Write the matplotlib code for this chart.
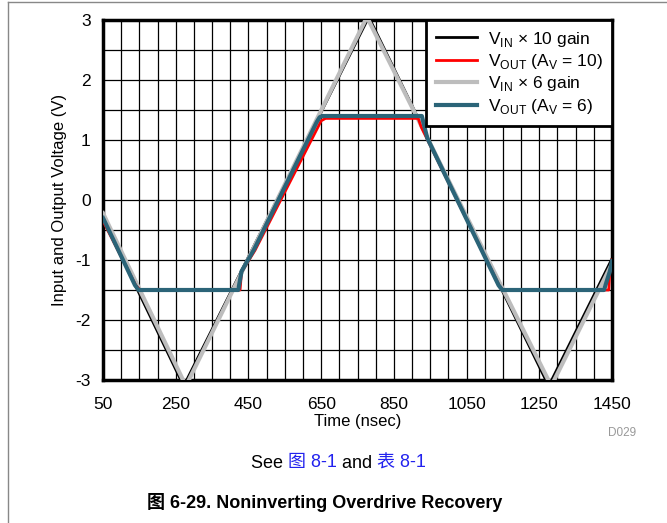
import matplotlib
matplotlib.use("Agg")
import matplotlib.pyplot as plt
from matplotlib.ticker import MultipleLocator
from matplotlib.lines import Line2D

plt.rcParams['font.family'] = ['Liberation Sans', 'Noto Sans CJK SC', 'DejaVu Sans']
plt.rcParams['mathtext.fontset'] = 'custom'
plt.rcParams['mathtext.rm'] = 'Liberation Sans'
plt.rcParams['axes.unicode_minus'] = False

# input triangles (vertices, valleys fall just below -3 V)
t_in10 = [50, 272, 781, 1276, 1450]
v_in10 = [-0.3, -3.1, 3.05, -3.1, -0.98]
t_in6 = [50, 278, 776, 1283, 1450]
v_in6 = [-0.22, -3.1, 3.05, -3.1, -1.06]

# amplifier outputs: follow the input, then clip and recover
t_out10 = [50, 140, 152, 427, 431, 468, 640, 650, 662, 917, 925, 1140, 1150, 1441, 1444, 1450]
v_out10 = [-0.35, -1.42, -1.5, -1.5, -1.2, -0.84, 1.2, 1.32, 1.36, 1.36, 1.22, -1.43, -1.5, -1.5, -1.2, -1.0]
t_out6 = [50, 138, 148, 422, 431, 465, 638, 646, 654, 927, 942, 1138, 1148, 1428, 1444, 1450]
v_out6 = [-0.3, -1.42, -1.5, -1.5, -1.19, -0.83, 1.3, 1.38, 1.40, 1.40, 1.03, -1.42, -1.5, -1.5, -1.19, -1.02]

x_ticks = [50, 250, 450, 650, 850, 1050, 1250, 1450]
labels = ['V$_{\\mathrm{IN}}$ × 10 gain', 'V$_{\\mathrm{OUT}}$ (A$_{\\mathrm{V}}$ = 10)',
          'V$_{\\mathrm{IN}}$ × 6 gain', 'V$_{\\mathrm{OUT}}$ (A$_{\\mathrm{V}}$ = 6)']
colors = ['black', '#ff0000', '#bdbdbd', '#2b6478']

fig = plt.figure(figsize=(6.67, 5.23), dpi=100)
ax = fig.add_axes([103 / 667, 1 - 380 / 523, 509 / 667, 360 / 523])

ax.plot(t_in10, v_in10, color=colors[0], lw=2, zorder=3)
ax.plot(t_in6, v_in6, color=colors[2], lw=3, zorder=3.5)
ax.plot(t_out10, v_out10, color=colors[1], lw=2, zorder=4)
ax.plot(t_out6, v_out6, color=colors[3], lw=3, zorder=4.5)

ax.set_xlim(50, 1450)
ax.set_ylim(-3, 3)
ax.set_xticks(x_ticks)
ax.xaxis.set_minor_locator(MultipleLocator(50))
ax.yaxis.set_major_locator(MultipleLocator(1))
ax.yaxis.set_minor_locator(MultipleLocator(0.5))
ax.grid(which='both', color='black', lw=0.9)
ax.set_axisbelow(True)
ax.tick_params(which='both', length=0, labelsize=12.5)
ax.tick_params(axis='x', pad=12)
ax.tick_params(axis='y', pad=9)
for s in ax.spines.values():
    s.set_linewidth(2.5)

ax.set_xlabel('Time (nsec)', fontsize=12, labelpad=2)
ax.set_ylabel('Input and Output Voltage (V)', fontsize=12, labelpad=6)

handles = [Line2D([0], [0], color=colors[0], lw=2),
           Line2D([0], [0], color=colors[1], lw=2),
           Line2D([0], [0], color=colors[2], lw=3),
           Line2D([0], [0], color=colors[3], lw=3)]
leg = ax.legend(handles, labels, loc='upper right', fontsize=12.5, frameon=True,
                fancybox=False, framealpha=1, edgecolor='black', borderaxespad=0,
                labelspacing=0.2, handlelength=2.4, handletextpad=0.6,
                borderpad=0.55)
leg.get_frame().set_linewidth(2)
leg.set_zorder(10)

fig.text(636 / 667, 1 - 433 / 523, 'D029', color='#999999', fontsize=8.5,
         ha='right', va='center')

# caption line with blue cross references
t1 = fig.text(251 / 667, 1 - 463 / 523, 'See ', fontsize=13, va='center')
t2 = plt.annotate('图 8-1', xy=(1, 0), xycoords=t1, va='bottom', fontsize=13, color='#2222ee')
t3 = plt.annotate(' and ', xy=(1, 0), xycoords=t2, va='bottom', fontsize=13)
plt.annotate('表 8-1', xy=(1, 0), xycoords=t3, va='bottom', fontsize=13, color='#2222ee')

fig.text(325 / 667, 1 - 503 / 523, '图 6-29. Noninverting Overdrive Recovery',
         fontsize=13, fontweight='bold', ha='center', va='center')

# page frame lines
fig.add_artist(Line2D([8 / 667, 8 / 667], [0, 1 - 2 / 523], color='#888888', lw=1))
fig.add_artist(Line2D([8 / 667, 1], [1 - 2 / 523, 1 - 2 / 523], color='#888888', lw=1))

fig.savefig('out.png', dpi=100)
